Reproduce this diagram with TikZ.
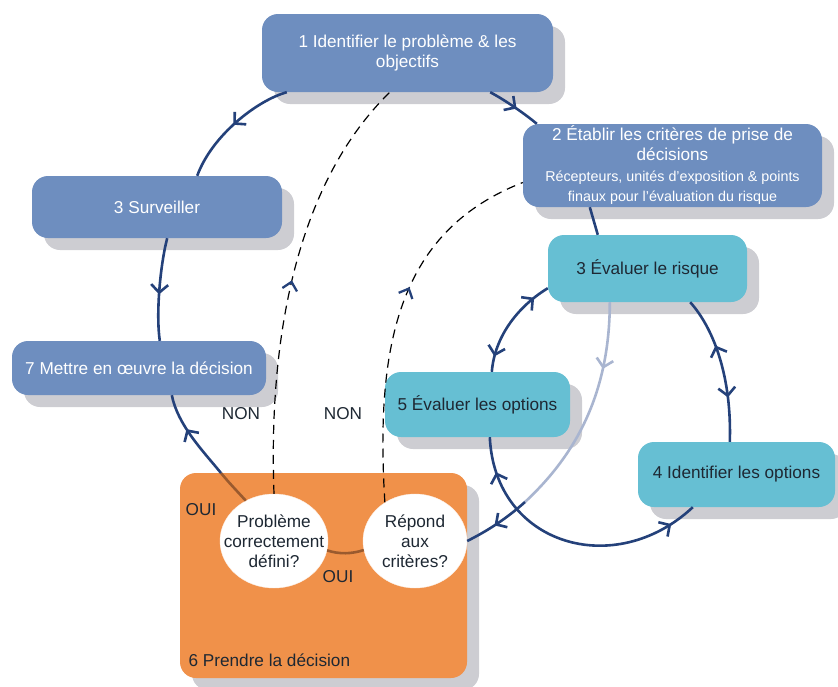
\documentclass[tikz,border=0pt]{standalone}
\usepackage{fontspec}
\setmainfont{Liberation Sans}
\usetikzlibrary{shapes.geometric, shadows, arrows.meta, decorations.markings}

\definecolor{boxblue}{HTML}{6E8EBF}
\definecolor{boxcyan}{HTML}{66BFD3}
\definecolor{boxorange}{HTML}{F0914A}
\definecolor{shadowgray}{HTML}{CDCDD2}
\definecolor{loopblue}{HTML}{24417A}
\definecolor{paleblue}{HTML}{A9B5D0}
\definecolor{loopbrown}{HTML}{9A5A2E}
\definecolor{darktext}{HTML}{1E2833}

\begin{document}
\begin{tikzpicture}[x=1pt, y=-1pt,
        font=\fontsize{17.2}{20}\selectfont,
        cyc/.tip={Straight Barb[length=8pt, width=17pt]},
        fb/.tip={Straight Barb[length=8pt, width=15pt, line width=2.3pt 0, color=loopblue]},
        card/.style={rounded corners=16pt, inner sep=0pt, align=center,
            drop shadow={shadow xshift=12pt, shadow yshift=-12pt, fill=shadowgray, opacity=1}},
        bluecard/.style={card, fill=boxblue, text=white},
        cyancard/.style={card, fill=boxcyan, text=darktext},
        question/.style={ellipse, fill=white, draw=white!85!boxorange, inner sep=0pt},
        cycleline/.style={loopblue, line width=2.6pt},
        feedback/.style={dash pattern=on 9pt off 6pt, line width=1.2pt},
        mark fwd/.style={postaction={decorate, decoration={markings,
            mark=at position #1 with {\arrow{cyc}}}}},
        mark bwd/.style={postaction={decorate, decoration={markings,
            mark=at position #1 with {\arrowreversed{cyc}}}}},
        mark up/.style={postaction={decorate, decoration={markings,
            mark=at position #1 with {\arrow{fb}}}}}]
    \useasboundingbox (0,0) rectangle (838,686);

    % boxes
    \node[bluecard, minimum width=291pt, minimum height=78pt] (b1) at (407.5,53)
        {1 Identifier le problème \& les\\objectifs};
    \node[bluecard, minimum width=299pt, minimum height=83pt] (b2) at (672.5,165.5)
        {2 Établir les critères de prise de\\décisions\\[1pt]
         {\fontsize{14.3}{17}\selectfont Récepteurs, unités d'exposition \& points}\\
         {\fontsize{14.3}{17}\selectfont finaux pour l'évaluation du risque}};
    \node[bluecard, minimum width=250pt, minimum height=62pt] (surv) at (157,207) {3 Surveiller};
    \node[bluecard, minimum width=254pt, minimum height=54pt] (mettre) at (139,368) {7 Mettre en œuvre la décision};
    \node[cyancard, minimum width=199pt, minimum height=67pt] (risque) at (647.5,268.5) {3 Évaluer le risque};
    \node[cyancard, minimum width=185pt, minimum height=65pt] (opt5) at (477.5,404.5) {5 Évaluer les options};
    \node[cyancard, minimum width=197pt, minimum height=65pt] (opt4) at (736.5,474.5) {4 Identifier les options};

    % decision block
    \node[card, fill=boxorange, minimum width=287pt, minimum height=205pt] (decide) at (323.5,575.5) {};
    \node[anchor=west, text=darktext] (decidelbl) at (185,660) {6 Prendre la décision};
    \node[question, minimum width=108pt, minimum height=94pt] (e1) at (274,541) {};
    \node[question, minimum width=104pt, minimum height=94pt] (e2) at (415,541) {};
    \node[align=center, text=darktext] (e1txt) at (e1) {Problème\\correctement\\défini?};
    \node[align=center, text=darktext] (e2txt) at (e2) {Répond\\aux\\critères?};

    \node[text=darktext] (non1) at (241,414) {NON};
    \node[text=darktext] (non2) at (343,414) {NON};
    \node[text=darktext] (oui1) at (201,510) {OUI};
    \node[text=darktext] (oui2) at (338,577) {OUI};

    % outer loop
    \draw[cycleline, mark fwd=0.5] ([xshift=25pt]b1.south west) .. controls +(-29,8) and +(15,-41) .. ([xshift=-85pt]surv.north east);
    \draw[cycleline, mark fwd=0.55] ([xshift=-115pt]surv.south east) .. controls +(-7,27) and +(-4,-27) .. ([xshift=148pt]mettre.north west);
    \coordinate (rim) at (221,473);
    \draw[cycleline, loopbrown] (e1.125) .. controls +(-9,-10) and +(9,11) .. (rim);
    \draw[cycleline, mark fwd=0.6] (rim) .. controls +(-18,-22) and +(6,30) .. ([xshift=160pt]mettre.south west);
    \draw[cycleline, loopbrown] (e1.350) .. controls +(12,4) and +(-12,4) .. (e2.190);
    \draw[cycleline, mark fwd=0.55] ([xshift=-63pt]b1.south east) .. controls +(15,8) and +(-12,-10) .. ([xshift=14pt]b2.north west);
    \draw[cycleline] ([xshift=67pt]b2.south west) -- ([xshift=50pt]risque.north west);

    % inner loop
    \draw[cycleline, mark bwd=0.16, mark fwd=0.85] ([yshift=14pt]risque.south west) .. controls +(-28,17) and +(3,-37) .. ([xshift=107pt]opt5.north west);
    \draw[cycleline, mark bwd=0.34, mark fwd=0.7] ([xshift=-57pt]risque.south east) .. controls +(25,28) and +(2,-62) .. ([xshift=92pt]opt4.north west);
    \draw[cycleline, mark bwd=0.13, mark fwd=0.9] ([xshift=105pt]opt5.south west) .. controls +(5,108) and +(-78,73) .. ([xshift=55pt]opt4.south west);
    \coordinate (cross) at (525,502);
    \draw[cycleline, paleblue, mark fwd=0.3] ([xshift=62pt]risque.south west) .. controls +(0,98) and +(45,-42) .. (cross);
    \draw[cycleline, mark fwd=0.55] (cross) .. controls +(-20,18) and +(18,-9) .. (e2.east);

    % NON feedback
    \draw[feedback, mark up=0.5] (e1.north) .. controls +(-6,-164) and +(-90,88) .. ([xshift=128pt]b1.south west);
    \draw[feedback, mark up=0.58] (e2.128) .. controls +(-10,-160) and +(-123,48) .. ([yshift=-17pt]b2.west);
\end{tikzpicture}
\end{document}
